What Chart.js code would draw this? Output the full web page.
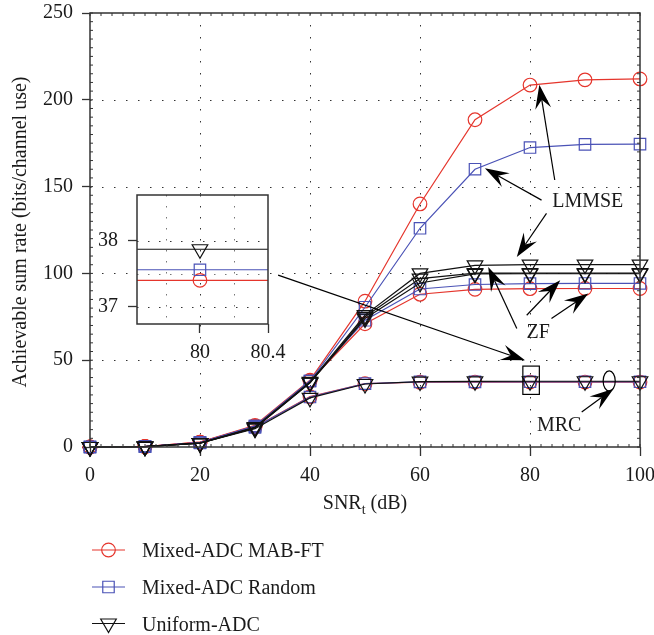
<!DOCTYPE html>
<html>
<head>
<meta charset="utf-8">
<script src="https://cdn.jsdelivr.net/npm/chart.js@4.4.1/dist/chart.umd.min.js"></script>
<style>
  html, body { margin: 0; padding: 0; background: #fff; }
  #wrap { position: relative; width: 654px; height: 635px; }
  #main { position: absolute; left: 0; top: 0; }
  #inset { position: absolute; left: 87px; top: 185px; }
</style>
</head>
<body>
<div id="wrap">
  <canvas id="main" width="654" height="635"></canvas>
  <canvas id="inset" width="200" height="180"></canvas>
</div>
<script>
// SNR_t (dB)
const snr = [0, 10, 20, 30, 40, 50, 60, 70, 80, 90, 100];

// Mixed-ADC MAB-FT (red circles)
const mabLmmse = [0, 0.3, 2.8, 12.5, 38.5, 84, 140, 188.5, 208.5, 211.5, 212];
const mabZf    = [0, 0.3, 2.8, 12, 38, 71, 88, 90.8, 91.2, 91.3, 91.3];
const mabMrc   = [0, 0.3, 2.6, 11.5, 29, 36.5, 37.3, 37.4, 37.4, 37.4, 37.4];

// Mixed-ADC Random (blue squares)
const rndLmmse = [0, 0.3, 2.6, 12, 38, 80.5, 126, 160, 172.5, 174.3, 174.5];
const rndZf    = [0, 0.3, 2.6, 12, 38, 73, 91, 93.6, 94.1, 94.2, 94.2];
const rndMrc   = [0, 0.3, 2.4, 11.3, 28.8, 36.5, 37.5, 37.55, 37.56, 37.56, 37.56];

// Uniform-ADC (black triangles)
const uniLmmse = [0, 0.2, 2.2, 11.5, 37.5, 76, 100, 104.6, 105.1, 105.1, 105.1];
const uniZf    = [0, 0.2, 2.2, 11, 37, 75, 97, 100.2, 100.2, 100.2, 100.2];
const uniZf2   = [0, 0.2, 2.2, 11, 37, 74, 94.5, 99.7, 99.8, 99.8, 99.8];
const uniMrc   = [0, 0.2, 2.2, 10.5, 28.3, 36.3, 37.7, 37.85, 37.87, 37.87, 37.87];

const xTicks = [0, 20, 40, 60, 80, 100];
const yTicks = [0, 50, 100, 150, 200, 250];

// inset (zoom around 80 dB on the MRC curves)
const insetXMin = 79.63, insetXMax = 80.4;
const insetYMin = 36.74, insetYMax = 38.69;
const insetXTicks = [79.8, 80, 80.2, 80.4];
const insetXLabels = [80, 80.4];
const insetYTicks = [37, 37.5, 38];
const insetYLabels = [37, 38];

const legendNames = ['Mixed-ADC MAB-FT', 'Mixed-ADC Random', 'Uniform-ADC'];

// annotations in data coordinates: [x1, y1, x2(tip), y2(tip)]
const arrows = [
  [84.5, 153.8, 81.7, 208.6],
  [82.1, 142.2, 71.8, 160.5],
  [83.0, 134.6, 77.6, 109.5],
  [77.6, 68.2, 72.4, 103.7],
  [79.4, 75.9, 85.5, 96.1],
  [83.9, 74.0, 90.6, 88.4],
  [89.4, 20.1, 95.2, 33.6],
  [34.2, 99.0, 79.1, 49.9]
];
const notes = [['LMMSE', 90.5, 141.5], ['ZF', 81.5, 66], ['MRC', 85.3, 12.2]];

const RED = '#e5352c', BLUE = '#4a52b6', BLACK = '#111';
const FONT = '"Liberation Serif", "DejaVu Serif", serif';

const markers = {
  circle:   { style: 'circle', r: 6.8, rot: 0 },
  rect:     { style: 'rect', r: 8.1, rot: 0 },
  triangle: { style: 'triangle', r: 9, rot: 180 }
};

function series(vals, color, m) {
  return {
    data: snr.map((x, i) => ({ x: x, y: vals[i] })),
    borderColor: color,
    borderWidth: 1.2,
    pointStyle: markers[m].style,
    pointRadius: markers[m].r,
    pointRotation: markers[m].rot,
    pointBorderColor: color,
    pointBorderWidth: 1.2,
    pointBackgroundColor: 'rgba(0,0,0,0)',
    tension: 0,
    clip: false
  };
}

function drawMarker(ctx, m, x, y, color) {
  const r = markers[m].r;
  ctx.save();
  ctx.strokeStyle = color; ctx.lineWidth = 1.2; ctx.setLineDash([]);
  ctx.beginPath();
  if (m === 'circle') ctx.arc(x, y, r, 0, Math.PI * 2);
  else if (m === 'rect') { const s = r * Math.SQRT1_2; ctx.rect(x - s, y - s, 2 * s, 2 * s); }
  else {
    ctx.moveTo(x, y + r);
    ctx.lineTo(x - r * Math.sin(Math.PI / 3), y - r / 2);
    ctx.lineTo(x + r * Math.sin(Math.PI / 3), y - r / 2);
    ctx.closePath();
  }
  ctx.stroke();
  ctx.restore();
}

function arrow(ctx, x1, y1, x2, y2) {
  const a = Math.atan2(y2 - y1, x2 - x1), c = Math.cos(a), s = Math.sin(a);
  const L = 24, W = 8, N = 15;
  ctx.beginPath();
  ctx.moveTo(x1, y1);
  ctx.lineTo(x2 - N * c, y2 - N * s);
  ctx.stroke();
  ctx.beginPath();
  ctx.moveTo(x2, y2);
  ctx.lineTo(x2 - L * c - W * s, y2 - L * s + W * c);
  ctx.lineTo(x2 - N * c, y2 - N * s);
  ctx.lineTo(x2 - L * c + W * s, y2 - L * s - W * c);
  ctx.closePath();
  ctx.fill();
}

function dotted(ctx, x1, y1, x2, y2) {
  ctx.beginPath(); ctx.moveTo(x1, y1); ctx.lineTo(x2, y2); ctx.stroke();
}

function noPad(s) {
  s.paddingLeft = 0; s.paddingRight = 0; s.paddingTop = 0; s.paddingBottom = 0;
}

const decor = {
  id: 'decor',
  beforeDatasetsDraw(chart) {
    const { ctx, chartArea: a, scales: { x, y } } = chart;
    ctx.save();
    ctx.strokeStyle = '#333'; ctx.lineWidth = 1; ctx.setLineDash([1.5, 10.5]);
    xTicks.forEach(v => {
      if (v <= x.min || v >= x.max) return;
      const px = Math.round(x.getPixelForValue(v)) + 0.5;
      dotted(ctx, px, a.top, px, a.bottom);
    });
    yTicks.forEach(v => {
      if (v <= y.min || v >= y.max) return;
      const py = Math.round(y.getPixelForValue(v)) + 0.5;
      dotted(ctx, a.left, py, a.right, py);
    });
    ctx.restore();
  },
  afterDatasetsDraw(chart) {
    const { ctx, chartArea: a, scales: { x, y } } = chart;
    ctx.save();
    // frame
    ctx.strokeStyle = '#333'; ctx.lineWidth = 1.5;
    ctx.strokeRect(a.left, a.top, a.right - a.left, a.bottom - a.top);
    // minor ticks
    ctx.lineWidth = 1;
    for (let v = 0; v <= 100; v += 2) {
      const px = x.getPixelForValue(v);
      dotted(ctx, px, a.top, px, a.top + 3);
      dotted(ctx, px, a.bottom, px, a.bottom - 3);
    }
    for (let v = 0; v <= 250; v += 5) {
      const py = y.getPixelForValue(v);
      dotted(ctx, a.left, py, a.left + 3, py);
      dotted(ctx, a.right, py, a.right - 3, py);
    }
    // annotations
    ctx.strokeStyle = '#000'; ctx.fillStyle = '#000'; ctx.lineWidth = 1.2;
    arrows.forEach(p => arrow(ctx, x.getPixelForValue(p[0]), y.getPixelForValue(p[1]),
                                   x.getPixelForValue(p[2]), y.getPixelForValue(p[3])));
    const rx1 = x.getPixelForValue(78.7), rx2 = x.getPixelForValue(81.7);
    const ry1 = y.getPixelForValue(46.6), ry2 = y.getPixelForValue(30.3);
    ctx.strokeRect(rx1, ry1, rx2 - rx1, ry2 - ry1);
    ctx.beginPath();
    ctx.ellipse(x.getPixelForValue(94.4), y.getPixelForValue(38.0),
                x.getPixelForValue(95.5) - x.getPixelForValue(94.4),
                y.getPixelForValue(38.0) - y.getPixelForValue(43.8), 0, 0, Math.PI * 2);
    ctx.stroke();
    ctx.font = '20px ' + FONT; ctx.fillStyle = '#1a1a1a';
    ctx.textAlign = 'center'; ctx.textBaseline = 'middle';
    notes.forEach(n => ctx.fillText(n[0], x.getPixelForValue(n[1]), y.getPixelForValue(n[2])));
    ctx.restore();
  },
  afterDraw(chart) {
    const { ctx, chartArea: a } = chart;
    ctx.save();
    ctx.fillStyle = '#1a1a1a';
    // y title
    ctx.font = '20px ' + FONT;
    ctx.textAlign = 'center'; ctx.textBaseline = 'middle';
    ctx.translate(21, (a.top + a.bottom) / 2 + 2);
    ctx.rotate(-Math.PI / 2);
    ctx.fillText('Achievable sum rate (bits/channel use)', 0, 0);
    ctx.setTransform(1, 0, 0, 1, 0, 0);
    // x title with subscript
    ctx.textAlign = 'left'; ctx.textBaseline = 'alphabetic';
    const big = '20px ' + FONT, small = '14px ' + FONT;
    ctx.font = big; const w1 = ctx.measureText('SNR').width, w3 = ctx.measureText(' (dB)').width;
    ctx.font = small; const w2 = ctx.measureText('t').width;
    let sx = (a.left + a.right) / 2 - (w1 + w2 + w3) / 2;
    const base = 509;
    ctx.font = big; ctx.fillText('SNR', sx, base);
    ctx.font = small; ctx.fillText('t', sx + w1, base + 5);
    ctx.font = big; ctx.fillText(' (dB)', sx + w1 + w2, base);
    // legend
    const rows = [550, 587, 623.5];
    const lg = [[RED, 'circle'], [BLUE, 'rect'], [BLACK, 'triangle']];
    lg.forEach((l, i) => {
      const yy = rows[i];
      ctx.strokeStyle = l[0]; ctx.lineWidth = 1.2;
      dotted(ctx, 92, yy, 125, yy);
      drawMarker(ctx, l[1], 108.5, yy, l[0]);
      ctx.fillStyle = '#1a1a1a'; ctx.font = big;
      ctx.fillText(legendNames[i], 142, yy + 7);
    });
    ctx.restore();
  }
};

new Chart(document.getElementById('main'), {
  type: 'line',
  data: {
    datasets: [
      series(uniMrc, BLACK, 'triangle'),
      series(uniZf2, BLACK, 'triangle'),
      series(uniZf, BLACK, 'triangle'),
      series(uniLmmse, BLACK, 'triangle'),
      series(rndMrc, BLUE, 'rect'),
      series(rndZf, BLUE, 'rect'),
      series(rndLmmse, BLUE, 'rect'),
      series(mabMrc, RED, 'circle'),
      series(mabZf, RED, 'circle'),
      series(mabLmmse, RED, 'circle')
    ]
  },
  options: {
    responsive: false,
    animation: false,
    events: [],
    layout: { padding: { left: 0, top: 13, right: 14, bottom: 140 } },
    plugins: { legend: { display: false }, tooltip: { enabled: false } },
    scales: {
      x: {
        type: 'linear', min: 0, max: 100,
        afterBuildTicks: s => { s.ticks = xTicks.map(v => ({ value: v })); },
        afterFit: s => { s.height = 48; noPad(s); },
        ticks: { font: { family: FONT, size: 20 }, color: '#1a1a1a', padding: 8, maxRotation: 0, autoSkip: false },
        grid: { drawOnChartArea: false, tickLength: 9, tickColor: '#333', tickWidth: 1.3 },
        border: { display: false }
      },
      y: {
        min: 0, max: 250,
        afterBuildTicks: s => { s.ticks = yTicks.map(v => ({ value: v })); },
        afterFit: s => { s.width = 90; noPad(s); },
        ticks: { font: { family: FONT, size: 20 }, color: '#1a1a1a', padding: 9 },
        grid: { drawOnChartArea: false, tickLength: 8, tickColor: '#333', tickWidth: 1.3 },
        border: { display: false }
      }
    }
  },
  plugins: [decor]
});

// inset
const i80 = snr.indexOf(80);
function insetSeries(vals, color, m) {
  const s = series(vals, color, m);
  s.data = [insetXMin, 80, insetXMax].map(x => ({ x: x, y: vals[i80] }));
  s.pointRadius = c => (c.dataIndex === 1 ? markers[m].r : 0);
  return s;
}

const insetDecor = {
  id: 'insetDecor',
  beforeDatasetsDraw(chart) {
    const { ctx, chartArea: a, scales: { x, y } } = chart;
    ctx.save();
    ctx.fillStyle = '#fff';
    ctx.fillRect(a.left, a.top, a.right - a.left, a.bottom - a.top);
    ctx.lineWidth = 1; ctx.setLineDash([1.5, 9.5]);
    insetXTicks.forEach(v => {
      if (v >= x.max) return;
      ctx.strokeStyle = insetXLabels.includes(v) ? '#333' : '#777';
      const px = Math.round(x.getPixelForValue(v)) + 0.5;
      dotted(ctx, px, a.top, px, a.bottom);
    });
    insetYTicks.forEach(v => {
      ctx.strokeStyle = insetYLabels.includes(v) ? '#333' : '#777';
      const py = Math.round(y.getPixelForValue(v)) + 0.5;
      dotted(ctx, a.left, py, a.right, py);
    });
    ctx.restore();
  },
  afterDatasetsDraw(chart) {
    const { ctx, chartArea: a } = chart;
    ctx.save();
    ctx.strokeStyle = '#333'; ctx.lineWidth = 1.5;
    ctx.strokeRect(a.left, a.top, a.right - a.left, a.bottom - a.top);
    ctx.restore();
  }
};

new Chart(document.getElementById('inset'), {
  type: 'line',
  data: {
    datasets: [
      insetSeries(uniMrc, BLACK, 'triangle'),
      insetSeries(rndMrc, BLUE, 'rect'),
      insetSeries(mabMrc, RED, 'circle')
    ]
  },
  options: {
    responsive: false,
    animation: false,
    events: [],
    layout: { padding: { left: 0, top: 10, right: 19, bottom: 0 } },
    plugins: { legend: { display: false }, tooltip: { enabled: false } },
    scales: {
      x: {
        type: 'linear', min: insetXMin, max: insetXMax,
        afterBuildTicks: s => { s.ticks = insetXTicks.map(v => ({ value: v })); },
        afterFit: s => { s.height = 41; noPad(s); },
        ticks: {
          font: { family: FONT, size: 20 }, color: '#1a1a1a', padding: 8, maxRotation: 0, autoSkip: false,
          callback: v => (insetXLabels.includes(v) ? String(v) : '')
        },
        grid: {
          drawOnChartArea: false, tickLength: 9, tickWidth: 1.3,
          tickColor: c => (c.tick && insetXLabels.includes(c.tick.value) ? '#333' : 'rgba(0,0,0,0)')
        },
        border: { display: false }
      },
      y: {
        min: insetYMin, max: insetYMax,
        afterBuildTicks: s => { s.ticks = insetYTicks.map(v => ({ value: v })); },
        afterFit: s => { s.width = 50; noPad(s); },
        ticks: {
          font: { family: FONT, size: 20 }, color: '#1a1a1a', padding: 10,
          callback: v => (insetYLabels.includes(v) ? String(v) : '')
        },
        grid: {
          drawOnChartArea: false, tickLength: 9, tickWidth: 1.3,
          tickColor: c => (c.tick && insetYLabels.includes(c.tick.value) ? '#333' : 'rgba(0,0,0,0)')
        },
        border: { display: false }
      }
    }
  },
  plugins: [insetDecor]
});
</script>
</body>
</html>
